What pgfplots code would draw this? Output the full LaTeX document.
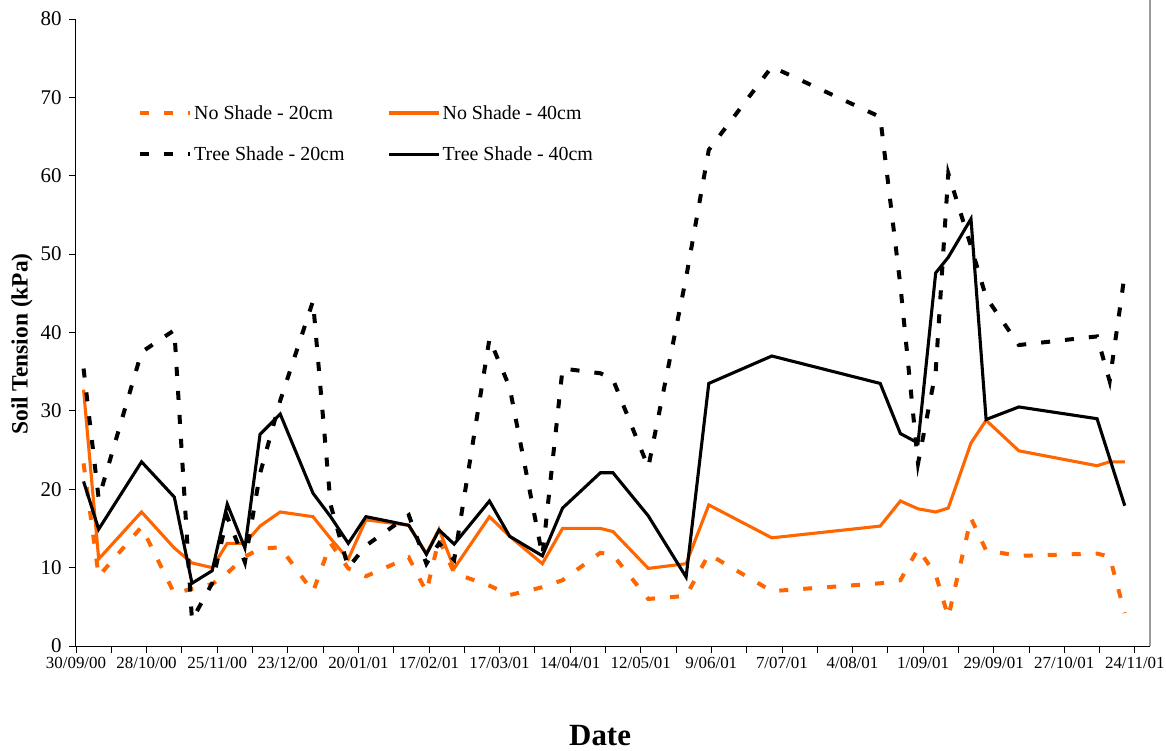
\documentclass[border=0pt]{standalone}
\usepackage{fontspec}
\setmainfont{Liberation Serif}
\usepackage{pgfplots}
\usepackage{pgfplotstable}
\pgfplotsset{compat=1.18}
\definecolor{nsorange}{RGB}{255,102,0}
\pgfplotstableread{
day ns20 ns40 ts20 ts40
3 23.3 32.7 35.4 21.0
9 8.9 11.1 18.8 14.9
26 15.2 17.1 37.5 23.5
39 6.7 12.5 40.3 19.0
46 7.3 10.6 3.3 8.0
54 7.9 10.0 8.0 9.6
60 9.3 13.1 16.5 18.1
67 11.4 13.1 10.7 12.5
73 12.4 15.3 22.0 27.0
81 12.6 17.1 31.3 29.6
94 6.9 16.5 44.0 19.5
101 13.1 13.7 18.0 16.5
108 9.9 11.1 10.0 13.1
115 8.9 16.1 12.8 16.5
132 11.3 15.4 16.7 15.4
139 6.9 11.8 10.5 11.7
144 13.7 14.9 13.1 14.8
150 9.3 9.9 11.0 13.0
164 7.7 16.5 39.2 18.5
172 6.5 14.0 33.0 14.0
185 7.5 10.5 11.5 11.5
193 8.4 15.0 35.4 17.6
208 11.9 15.0 34.8 22.1
213 11.6 14.6 34.0 22.1
227 6.0 9.9 22.8 16.6
242 6.4 10.5 47.0 8.8
251 11.7 18.0 63.3 33.5
276 7.0 13.8 73.9 37.0
319 8.0 15.3 67.5 33.5
327 8.4 18.5 46.0 27.1
334 12.4 17.5 23.3 25.9
341 9.1 17.1 35.0 47.6
346 3.7 17.6 60.3 49.6
355 16.3 25.9 51.0 54.5
361 12.2 28.8 44.5 28.9
374 11.5 24.9 38.4 30.5
405 11.8 23.0 39.5 29.0
410 11.4 23.5 33.8 nan
416 4.2 23.5 47.5 17.9
}\soildata
\begin{document}
\begin{tikzpicture}[x=1bp,y=1bp]
\begin{axis}[
  at={(0,0)}, anchor=south west,
  width=1074bp, height=627bp, scale only axis,
  xmin=0, xmax=426, ymin=0, ymax=80,
  clip=false,
  axis x line=bottom, axis y line=left,
  axis line style={-, black, line width=1bp},
  xtick={0,28,...,420},
  minor xtick={14,42,...,406},
  xticklabels={30/09/00,28/10/00,25/11/00,23/12/00,20/01/01,17/02/01,17/03/01,14/04/01,12/05/01,9/06/01,7/07/01,4/08/01,1/09/01,29/09/01,27/10/01,24/11/01},
  ytick={0,10,...,80},
  yticklabels={0,10,20,30,40,50,60,70,80},
  tick align=outside,
  major tick length=7bp, minor tick length=7bp,
  tick style={black, line width=0.8bp},
  xticklabel style={font=\fontsize{17}{17}\selectfont, yshift=-1bp},
  yticklabel style={font=\fontsize{21}{21}\selectfont, xshift=-4bp},
  xlabel={Date},
  ylabel={Soil Tension (kPa)},
  xlabel style={at={(axis description cs:0.488,-0.158)}, anchor=base, inner sep=0pt, font=\bfseries\fontsize{31}{31}\selectfont},
  ylabel style={at={(axis description cs:-0.0503,0.4817)}, anchor=center, rotate=0, font=\bfseries\fontsize{23.5}{23.5}\selectfont},
  legend columns=2,
  legend cell align=left,
  legend style={draw=none, fill=none, at={(axis description cs:0.055,0.869)}, anchor=north west,
    font=\fontsize{20}{20}\selectfont,
    /tikz/every even column/.append style={column sep=41bp},
    row sep=22bp},
  legend image code/.code={\draw[#1] (0bp,0bp) -- (50bp,0bp);},
  every axis plot/.append style={line join=miter},
]
\addplot[nsorange, line width=4bp, dash pattern=on 9bp off 15bp] table[x=day, y=ns20] {\soildata};
\addlegendentry{No Shade - 20cm}
\addplot[nsorange, line width=3.1bp] table[x=day, y=ns40] {\soildata};
\addlegendentry{No Shade - 40cm}
\addplot[black, line width=4bp, dash pattern=on 9bp off 15bp] table[x=day, y=ts20] {\soildata};
\addlegendentry{Tree Shade - 20cm}
\addplot[black, line width=3.1bp] table[x=day, y=ts40] {\soildata};
\addlegendentry{Tree Shade - 40cm}
\draw[black!40, line width=1.2bp] (axis cs:426,0) -- (axis cs:426,82.4);
\end{axis}
\pgfresetboundingbox
\path[use as bounding box] (-76bp,-105bp) rectangle (1090bp,646bp);
\end{tikzpicture}
\end{document}
